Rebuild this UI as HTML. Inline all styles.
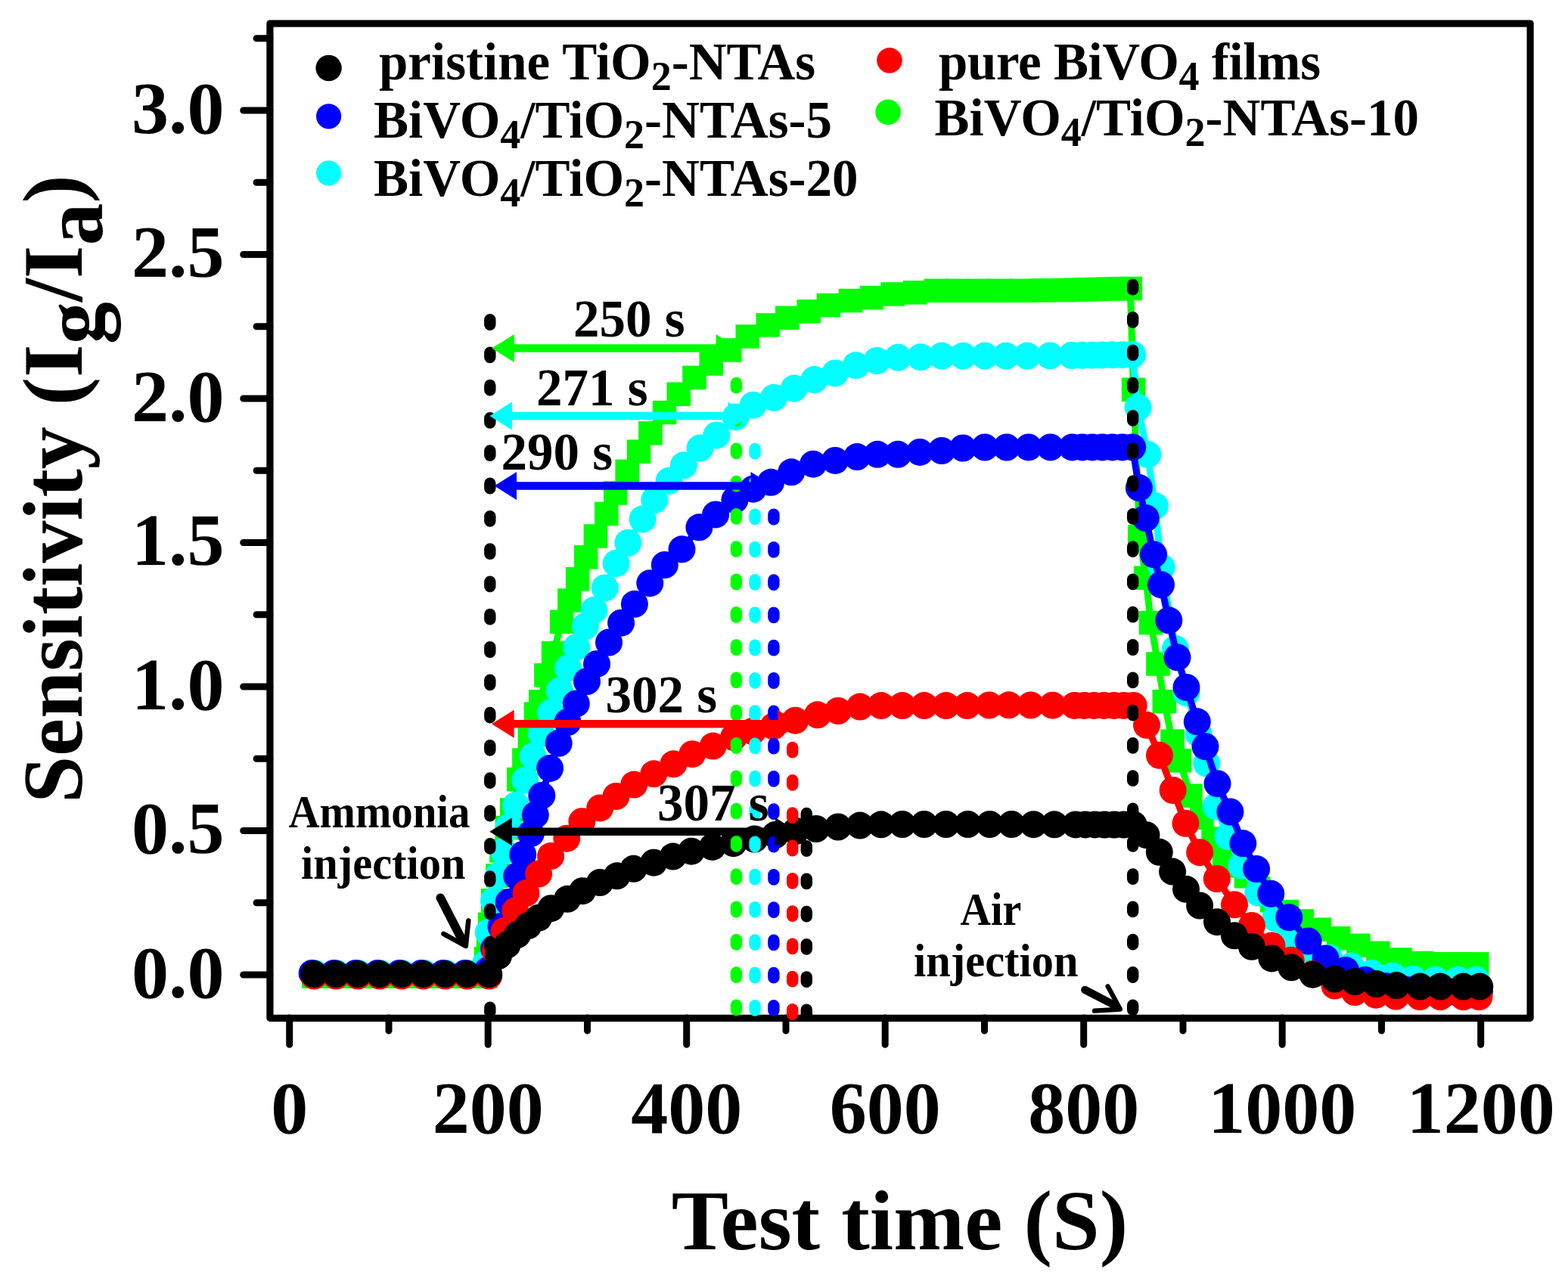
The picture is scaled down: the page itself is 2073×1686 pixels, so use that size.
<!DOCTYPE html>
<html><head><meta charset="utf-8"><title>Sensitivity vs Test time</title><style>html,body{margin:0;padding:0;background:#fff;overflow:hidden}svg{display:block}</style></head><body>
<svg width="2073" height="1686" viewBox="0 0 2073 1686" font-family="'Liberation Serif', 'Times New Roman', serif" font-weight="bold">
<rect width="2073" height="1686" fill="#fff"/>
<rect x="356.9" y="31.1" width="1666.2" height="1315.2" fill="none" stroke="#000" stroke-width="9.2" stroke-linejoin="round"/>
<path d="M356.9,1289.0H321.7M356.9,1193.8H339.1M356.9,1098.5H321.7M356.9,1003.2H339.1M356.9,908.0H321.7M356.9,812.8H339.1M356.9,717.5H321.7M356.9,622.2H339.1M356.9,527.0H321.7M356.9,431.8H339.1M356.9,336.5H321.7M356.9,241.2H339.1M356.9,146.0H321.7M356.9,50.8H339.1M382.7,1346V1381.2M514.0,1346V1363.0M645.2,1346V1381.2M776.5,1346V1363.0M907.7,1346V1381.2M1039.0,1346V1363.0M1170.2,1346V1381.2M1301.5,1346V1363.0M1432.7,1346V1381.2M1564.0,1346V1363.0M1695.2,1346V1381.2M1826.5,1346V1363.0M1957.7,1346V1381.2" stroke="#000" stroke-width="9" stroke-linecap="round" fill="none"/>
<g font-size="98" text-anchor="end">
<text x="296.6" y="1318.5">0.0</text>
<text x="296.6" y="1128.0">0.5</text>
<text x="296.6" y="937.5">1.0</text>
<text x="296.6" y="747.0">1.5</text>
<text x="296.6" y="556.5">2.0</text>
<text x="296.6" y="366.0">2.5</text>
<text x="296.6" y="175.5">3.0</text>
</g><g font-size="98" text-anchor="middle">
<text x="382.7" y="1498">0</text>
<text x="645.2" y="1498">200</text>
<text x="907.7" y="1498">400</text>
<text x="1170.2" y="1498">600</text>
<text x="1432.7" y="1498">800</text>
<text x="1695.2" y="1498">1000</text>
<text x="1957.7" y="1498">1200</text>
</g>
<text x="1189.5" y="1651.6" font-size="112.8" text-anchor="middle">Test time (S)</text>
<text transform="translate(107.7,1062) rotate(-90)" font-size="112">Sensitivity (I<tspan dy="27">g</tspan><tspan dy="-27">/I</tspan><tspan dy="27">a</tspan><tspan dy="-27">)</tspan></text>
<path d="M414.7,1291.2 L443.1,1291.2 L471.4,1291.2 L499.8,1291.2 L528.1,1291.2 L556.5,1291.2 L584.8,1291.2 L613.1,1291.2 L641.7,1291.2 L642.5,1268.0 L645.5,1245.0 L647.5,1222.3 L651.7,1190.7 L658.0,1158.0 L662.9,1125.0 L670.4,1094.5 L676.8,1071.0 L685.9,1030.6 L692.9,1005.0 L700.4,978.0 L708.4,944.1 L714.8,927.9 L721.9,892.9 L731.5,863.5 L742.6,822.2 L752.9,794.0 L763.6,765.6 L774.6,736.8 L787.4,709.0 L801.7,679.4 L813.8,652.0 L829.1,623.4 L844.5,597.1 L859.9,572.9 L878.5,545.5 L897.2,521.3 L918.0,499.4 L940.2,481.0 L964.9,463.0 L988.3,445.0 L1015.2,429.8 L1040.8,420.3 L1069.3,411.8 L1095.4,403.6 L1124.6,397.5 L1152.4,393.6 L1180.3,389.0 L1209.5,386.9 L1237.3,384.3 L1265.6,384.3 L1294.0,384.3 L1322.3,384.3 L1350.7,384.3 L1379.0,384.0 L1407.4,383.6 L1421.9,383.2 L1436.4,382.9 L1450.8,382.6 L1465.3,382.2 L1479.8,381.9 L1494.3,381.5 L1498.5,515.3 L1506.8,709.8 L1514.8,764.2 L1521.6,823.5 L1530.9,878.0 L1539.2,927.6 L1549.9,980.1 L1559.6,1005.9 L1573.9,1052.2 L1589.0,1081.5 L1604.1,1109.1 L1618.5,1129.0 L1630.9,1145.0 L1647.5,1158.8 L1664.0,1174.9 L1681.7,1191.0 L1701.5,1205.5 L1721.3,1217.9 L1744.5,1229.2 L1769.8,1240.8 L1795.9,1250.2 L1821.9,1260.3 L1850.9,1269.0 L1880.0,1273.5 L1906.0,1274.8 L1930.0,1274.8 L1952.8,1274.8" fill="none" stroke="#00ff00" stroke-width="9" stroke-linejoin="round" stroke-linecap="round"/>
<g fill="#00ff00"><rect x="398.9" y="1275.5" width="31.5" height="31.5"/><rect x="427.3" y="1275.5" width="31.5" height="31.5"/><rect x="455.6" y="1275.5" width="31.5" height="31.5"/><rect x="484.0" y="1275.5" width="31.5" height="31.5"/><rect x="512.4" y="1275.5" width="31.5" height="31.5"/><rect x="540.7" y="1275.5" width="31.5" height="31.5"/><rect x="569.0" y="1275.5" width="31.5" height="31.5"/><rect x="597.4" y="1275.5" width="31.5" height="31.5"/><rect x="626.0" y="1275.5" width="31.5" height="31.5"/><rect x="626.8" y="1252.2" width="31.5" height="31.5"/><rect x="629.8" y="1229.2" width="31.5" height="31.5"/><rect x="631.8" y="1206.5" width="31.5" height="31.5"/><rect x="636.0" y="1175.0" width="31.5" height="31.5"/><rect x="642.2" y="1142.2" width="31.5" height="31.5"/><rect x="647.1" y="1109.2" width="31.5" height="31.5"/><rect x="654.6" y="1078.8" width="31.5" height="31.5"/><rect x="661.0" y="1055.2" width="31.5" height="31.5"/><rect x="670.1" y="1014.8" width="31.5" height="31.5"/><rect x="677.1" y="989.2" width="31.5" height="31.5"/><rect x="684.6" y="962.2" width="31.5" height="31.5"/><rect x="692.6" y="928.4" width="31.5" height="31.5"/><rect x="699.0" y="912.1" width="31.5" height="31.5"/><rect x="706.1" y="877.1" width="31.5" height="31.5"/><rect x="715.8" y="847.8" width="31.5" height="31.5"/><rect x="726.9" y="806.5" width="31.5" height="31.5"/><rect x="737.1" y="778.2" width="31.5" height="31.5"/><rect x="747.9" y="749.9" width="31.5" height="31.5"/><rect x="758.9" y="721.0" width="31.5" height="31.5"/><rect x="771.6" y="693.2" width="31.5" height="31.5"/><rect x="786.0" y="663.6" width="31.5" height="31.5"/><rect x="798.0" y="636.2" width="31.5" height="31.5"/><rect x="813.4" y="607.6" width="31.5" height="31.5"/><rect x="828.8" y="581.4" width="31.5" height="31.5"/><rect x="844.1" y="557.1" width="31.5" height="31.5"/><rect x="862.8" y="529.8" width="31.5" height="31.5"/><rect x="881.5" y="505.5" width="31.5" height="31.5"/><rect x="902.2" y="483.6" width="31.5" height="31.5"/><rect x="924.5" y="465.2" width="31.5" height="31.5"/><rect x="949.1" y="447.2" width="31.5" height="31.5"/><rect x="972.5" y="429.2" width="31.5" height="31.5"/><rect x="999.5" y="414.1" width="31.5" height="31.5"/><rect x="1025.0" y="404.6" width="31.5" height="31.5"/><rect x="1053.5" y="396.1" width="31.5" height="31.5"/><rect x="1079.7" y="387.9" width="31.5" height="31.5"/><rect x="1108.8" y="381.8" width="31.5" height="31.5"/><rect x="1136.7" y="377.9" width="31.5" height="31.5"/><rect x="1164.5" y="373.2" width="31.5" height="31.5"/><rect x="1193.8" y="371.1" width="31.5" height="31.5"/><rect x="1221.5" y="368.6" width="31.5" height="31.5"/><rect x="1249.8" y="368.6" width="31.5" height="31.5"/><rect x="1278.2" y="368.6" width="31.5" height="31.5"/><rect x="1306.5" y="368.6" width="31.5" height="31.5"/><rect x="1335.0" y="368.6" width="31.5" height="31.5"/><rect x="1363.2" y="368.2" width="31.5" height="31.5"/><rect x="1391.7" y="367.9" width="31.5" height="31.5"/><rect x="1406.1" y="367.5" width="31.5" height="31.5"/><rect x="1420.6" y="367.2" width="31.5" height="31.5"/><rect x="1435.1" y="366.8" width="31.5" height="31.5"/><rect x="1449.6" y="366.4" width="31.5" height="31.5"/><rect x="1464.1" y="366.1" width="31.5" height="31.5"/><rect x="1478.5" y="365.8" width="31.5" height="31.5"/><rect x="1482.8" y="499.5" width="31.5" height="31.5"/><rect x="1491.0" y="694.0" width="31.5" height="31.5"/><rect x="1499.0" y="748.5" width="31.5" height="31.5"/><rect x="1505.8" y="807.8" width="31.5" height="31.5"/><rect x="1515.2" y="862.2" width="31.5" height="31.5"/><rect x="1523.5" y="911.9" width="31.5" height="31.5"/><rect x="1534.2" y="964.4" width="31.5" height="31.5"/><rect x="1543.8" y="990.1" width="31.5" height="31.5"/><rect x="1558.2" y="1036.5" width="31.5" height="31.5"/><rect x="1573.2" y="1065.8" width="31.5" height="31.5"/><rect x="1588.3" y="1093.3" width="31.5" height="31.5"/><rect x="1602.8" y="1113.2" width="31.5" height="31.5"/><rect x="1615.2" y="1129.2" width="31.5" height="31.5"/><rect x="1631.8" y="1143.0" width="31.5" height="31.5"/><rect x="1648.2" y="1159.2" width="31.5" height="31.5"/><rect x="1666.0" y="1175.2" width="31.5" height="31.5"/><rect x="1685.8" y="1189.8" width="31.5" height="31.5"/><rect x="1705.5" y="1202.2" width="31.5" height="31.5"/><rect x="1728.8" y="1213.5" width="31.5" height="31.5"/><rect x="1754.0" y="1225.0" width="31.5" height="31.5"/><rect x="1780.2" y="1234.5" width="31.5" height="31.5"/><rect x="1806.2" y="1244.5" width="31.5" height="31.5"/><rect x="1835.2" y="1253.2" width="31.5" height="31.5"/><rect x="1864.2" y="1257.8" width="31.5" height="31.5"/><rect x="1890.2" y="1259.0" width="31.5" height="31.5"/><rect x="1914.2" y="1259.0" width="31.5" height="31.5"/><rect x="1937.0" y="1259.0" width="31.5" height="31.5"/></g>
<path d="M417.0,1287.3 L445.9,1287.3 L474.8,1287.3 L503.7,1287.3 L532.6,1287.3 L561.5,1287.3 L590.4,1287.3 L619.3,1287.3 L646.0,1287.3 L641.6,1275.0 L645.8,1233.0 L652.9,1191.0 L658.7,1157.7 L665.6,1125.7 L672.6,1093.7 L682.2,1064.8 L694.4,1031.7 L704.7,999.9 L715.9,970.0 L728.2,942.2 L739.9,913.4 L751.2,883.5 L762.3,855.7 L773.9,828.1 L785.5,806.8 L799.7,777.4 L814.7,745.0 L830.3,717.8 L849.6,686.5 L865.3,661.1 L884.6,635.8 L903.9,615.3 L925.6,592.4 L947.3,575.5 L972.6,551.4 L995.6,535.7 L1023.2,525.8 L1049.8,513.6 L1076.6,502.1 L1104.2,493.4 L1131.7,483.1 L1159.3,477.0 L1187.3,472.7 L1217.2,472.2 L1245.2,470.6 L1273.2,470.6 L1302.1,470.6 L1330.1,470.6 L1358.1,470.6 L1388.0,470.4 L1416.9,470.0 L1430.3,469.8 L1443.7,469.7 L1457.1,469.5 L1470.4,469.3 L1483.8,469.2 L1497.2,469.0 L1504.6,538.7 L1517.4,600.9 L1527.0,669.1 L1535.7,750.1 L1554.0,858.0 L1568.5,916.0 L1584.6,970.3 L1595.2,1009.5 L1607.7,1066.4 L1623.5,1106.0 L1641.5,1144.5 L1663.3,1180.6 L1686.2,1214.4 L1704.3,1239.7 L1730.0,1255.0 L1757.3,1266.7 L1786.2,1277.5 L1813.0,1286.9 L1841.2,1290.5 L1868.0,1294.5 L1897.7,1295.6 L1927.3,1295.6 L1951.2,1295.6" fill="none" stroke="#00ffff" stroke-width="9" stroke-linejoin="round" stroke-linecap="round"/>
<g fill="#00ffff"><circle cx="417.0" cy="1287.3" r="18.00"/><circle cx="445.9" cy="1287.3" r="18.00"/><circle cx="474.8" cy="1287.3" r="18.00"/><circle cx="503.7" cy="1287.3" r="18.00"/><circle cx="532.6" cy="1287.3" r="18.00"/><circle cx="561.5" cy="1287.3" r="18.00"/><circle cx="590.4" cy="1287.3" r="18.00"/><circle cx="619.3" cy="1287.3" r="18.00"/><circle cx="646.0" cy="1287.3" r="18.00"/><circle cx="641.6" cy="1275.0" r="18.00"/><circle cx="645.8" cy="1233.0" r="18.00"/><circle cx="652.9" cy="1191.0" r="18.00"/><circle cx="658.7" cy="1157.7" r="18.00"/><circle cx="665.6" cy="1125.7" r="18.00"/><circle cx="672.6" cy="1093.7" r="18.00"/><circle cx="682.2" cy="1064.8" r="18.00"/><circle cx="694.4" cy="1031.7" r="18.00"/><circle cx="704.7" cy="999.9" r="18.00"/><circle cx="715.9" cy="970.0" r="18.00"/><circle cx="728.2" cy="942.2" r="18.00"/><circle cx="739.9" cy="913.4" r="18.00"/><circle cx="751.2" cy="883.5" r="18.00"/><circle cx="762.3" cy="855.7" r="18.00"/><circle cx="773.9" cy="828.1" r="18.00"/><circle cx="785.5" cy="806.8" r="18.00"/><circle cx="799.7" cy="777.4" r="18.00"/><circle cx="814.7" cy="745.0" r="18.00"/><circle cx="830.3" cy="717.8" r="18.00"/><circle cx="849.6" cy="686.5" r="18.00"/><circle cx="865.3" cy="661.1" r="18.00"/><circle cx="884.6" cy="635.8" r="18.00"/><circle cx="903.9" cy="615.3" r="18.00"/><circle cx="925.6" cy="592.4" r="18.00"/><circle cx="947.3" cy="575.5" r="18.00"/><circle cx="972.6" cy="551.4" r="18.00"/><circle cx="995.6" cy="535.7" r="18.00"/><circle cx="1023.2" cy="525.8" r="18.00"/><circle cx="1049.8" cy="513.6" r="18.00"/><circle cx="1076.6" cy="502.1" r="18.00"/><circle cx="1104.2" cy="493.4" r="18.00"/><circle cx="1131.7" cy="483.1" r="18.00"/><circle cx="1159.3" cy="477.0" r="18.00"/><circle cx="1187.3" cy="472.7" r="18.00"/><circle cx="1217.2" cy="472.2" r="18.00"/><circle cx="1245.2" cy="470.6" r="18.00"/><circle cx="1273.2" cy="470.6" r="18.00"/><circle cx="1302.1" cy="470.6" r="18.00"/><circle cx="1330.1" cy="470.6" r="18.00"/><circle cx="1358.1" cy="470.6" r="18.00"/><circle cx="1388.0" cy="470.4" r="18.00"/><circle cx="1416.9" cy="470.0" r="18.00"/><circle cx="1430.3" cy="469.8" r="18.00"/><circle cx="1443.7" cy="469.7" r="18.00"/><circle cx="1457.1" cy="469.5" r="18.00"/><circle cx="1470.4" cy="469.3" r="18.00"/><circle cx="1483.8" cy="469.2" r="18.00"/><circle cx="1497.2" cy="469.0" r="18.00"/><circle cx="1504.6" cy="538.7" r="18.00"/><circle cx="1517.4" cy="600.9" r="18.00"/><circle cx="1527.0" cy="669.1" r="18.00"/><circle cx="1535.7" cy="750.1" r="18.00"/><circle cx="1554.0" cy="858.0" r="18.00"/><circle cx="1568.5" cy="916.0" r="18.00"/><circle cx="1584.6" cy="970.3" r="18.00"/><circle cx="1595.2" cy="1009.5" r="18.00"/><circle cx="1607.7" cy="1066.4" r="18.00"/><circle cx="1623.5" cy="1106.0" r="18.00"/><circle cx="1641.5" cy="1144.5" r="18.00"/><circle cx="1663.3" cy="1180.6" r="18.00"/><circle cx="1686.2" cy="1214.4" r="18.00"/><circle cx="1704.3" cy="1239.7" r="18.00"/><circle cx="1730.0" cy="1255.0" r="18.00"/><circle cx="1757.3" cy="1266.7" r="18.00"/><circle cx="1786.2" cy="1277.5" r="18.00"/><circle cx="1813.0" cy="1286.9" r="18.00"/><circle cx="1841.2" cy="1290.5" r="18.00"/><circle cx="1868.0" cy="1294.5" r="18.00"/><circle cx="1897.7" cy="1295.6" r="18.00"/><circle cx="1927.3" cy="1295.6" r="18.00"/><circle cx="1951.2" cy="1295.6" r="18.00"/></g>
<path d="M412.6,1286.9 L441.5,1286.9 L470.4,1286.9 L499.3,1286.9 L528.2,1286.9 L557.1,1286.9 L586.0,1286.9 L614.9,1286.9 L643.7,1286.9 L645.0,1283.0 L653.1,1254.4 L662.5,1225.0 L672.6,1193.0 L683.2,1158.5 L691.2,1130.0 L701.9,1102.2 L707.8,1077.6 L716.3,1052.0 L727.1,1015.9 L738.7,982.8 L750.5,955.0 L761.8,930.5 L776.0,901.0 L789.0,877.9 L805.0,849.5 L821.1,823.7 L838.9,798.8 L859.3,771.2 L878.8,747.0 L901.5,726.3 L924.4,697.3 L946.1,680.4 L971.4,661.1 L995.6,646.7 L1019.2,637.8 L1046.2,624.3 L1075.1,613.7 L1104.1,608.9 L1133.1,604.1 L1160.1,600.8 L1187.1,600.8 L1216.1,597.9 L1245.0,596.0 L1273.0,592.5 L1302.0,591.5 L1330.9,591.5 L1359.8,591.4 L1388.7,591.4 L1417.6,591.4 L1430.9,591.4 L1444.1,591.4 L1457.4,591.4 L1470.7,591.4 L1483.9,591.4 L1497.2,591.4 L1505.9,645.1 L1514.8,685.1 L1525.1,733.2 L1535.0,773.2 L1545.3,820.3 L1556.5,869.3 L1568.5,908.9 L1582.8,954.3 L1593.5,987.2 L1609.5,1036.2 L1626.4,1073.5 L1643.3,1115.3 L1661.1,1149.1 L1680.2,1181.8 L1704.3,1213.2 L1729.6,1244.5 L1752.6,1267.4 L1779.1,1283.1 L1805.0,1296.0 L1832.0,1304.0 L1860.0,1309.0 L1888.0,1311.0 L1916.0,1311.5 L1940.0,1311.5 L1956.0,1311.5" fill="none" stroke="#0000ff" stroke-width="9" stroke-linejoin="round" stroke-linecap="round"/>
<g fill="#0000ff"><circle cx="412.6" cy="1286.9" r="18.00"/><circle cx="441.5" cy="1286.9" r="18.00"/><circle cx="470.4" cy="1286.9" r="18.00"/><circle cx="499.3" cy="1286.9" r="18.00"/><circle cx="528.2" cy="1286.9" r="18.00"/><circle cx="557.1" cy="1286.9" r="18.00"/><circle cx="586.0" cy="1286.9" r="18.00"/><circle cx="614.9" cy="1286.9" r="18.00"/><circle cx="643.7" cy="1286.9" r="18.00"/><circle cx="645.0" cy="1283.0" r="18.00"/><circle cx="653.1" cy="1254.4" r="18.00"/><circle cx="662.5" cy="1225.0" r="18.00"/><circle cx="672.6" cy="1193.0" r="18.00"/><circle cx="683.2" cy="1158.5" r="18.00"/><circle cx="691.2" cy="1130.0" r="18.00"/><circle cx="701.9" cy="1102.2" r="18.00"/><circle cx="707.8" cy="1077.6" r="18.00"/><circle cx="716.3" cy="1052.0" r="18.00"/><circle cx="727.1" cy="1015.9" r="18.00"/><circle cx="738.7" cy="982.8" r="18.00"/><circle cx="750.5" cy="955.0" r="18.00"/><circle cx="761.8" cy="930.5" r="18.00"/><circle cx="776.0" cy="901.0" r="18.00"/><circle cx="789.0" cy="877.9" r="18.00"/><circle cx="805.0" cy="849.5" r="18.00"/><circle cx="821.1" cy="823.7" r="18.00"/><circle cx="838.9" cy="798.8" r="18.00"/><circle cx="859.3" cy="771.2" r="18.00"/><circle cx="878.8" cy="747.0" r="18.00"/><circle cx="901.5" cy="726.3" r="18.00"/><circle cx="924.4" cy="697.3" r="18.00"/><circle cx="946.1" cy="680.4" r="18.00"/><circle cx="971.4" cy="661.1" r="18.00"/><circle cx="995.6" cy="646.7" r="18.00"/><circle cx="1019.2" cy="637.8" r="18.00"/><circle cx="1046.2" cy="624.3" r="18.00"/><circle cx="1075.1" cy="613.7" r="18.00"/><circle cx="1104.1" cy="608.9" r="18.00"/><circle cx="1133.1" cy="604.1" r="18.00"/><circle cx="1160.1" cy="600.8" r="18.00"/><circle cx="1187.1" cy="600.8" r="18.00"/><circle cx="1216.1" cy="597.9" r="18.00"/><circle cx="1245.0" cy="596.0" r="18.00"/><circle cx="1273.0" cy="592.5" r="18.00"/><circle cx="1302.0" cy="591.5" r="18.00"/><circle cx="1330.9" cy="591.5" r="18.00"/><circle cx="1359.8" cy="591.4" r="18.00"/><circle cx="1388.7" cy="591.4" r="18.00"/><circle cx="1417.6" cy="591.4" r="18.00"/><circle cx="1430.9" cy="591.4" r="18.00"/><circle cx="1444.1" cy="591.4" r="18.00"/><circle cx="1457.4" cy="591.4" r="18.00"/><circle cx="1470.7" cy="591.4" r="18.00"/><circle cx="1483.9" cy="591.4" r="18.00"/><circle cx="1497.2" cy="591.4" r="18.00"/><circle cx="1505.9" cy="645.1" r="18.00"/><circle cx="1514.8" cy="685.1" r="18.00"/><circle cx="1525.1" cy="733.2" r="18.00"/><circle cx="1535.0" cy="773.2" r="18.00"/><circle cx="1545.3" cy="820.3" r="18.00"/><circle cx="1556.5" cy="869.3" r="18.00"/><circle cx="1568.5" cy="908.9" r="18.00"/><circle cx="1582.8" cy="954.3" r="18.00"/><circle cx="1593.5" cy="987.2" r="18.00"/><circle cx="1609.5" cy="1036.2" r="18.00"/><circle cx="1626.4" cy="1073.5" r="18.00"/><circle cx="1643.3" cy="1115.3" r="18.00"/><circle cx="1661.1" cy="1149.1" r="18.00"/><circle cx="1680.2" cy="1181.8" r="18.00"/><circle cx="1704.3" cy="1213.2" r="18.00"/><circle cx="1729.6" cy="1244.5" r="18.00"/><circle cx="1752.6" cy="1267.4" r="18.00"/><circle cx="1779.1" cy="1283.1" r="18.00"/><circle cx="1805.0" cy="1296.0" r="18.00"/><circle cx="1832.0" cy="1304.0" r="18.00"/><circle cx="1860.0" cy="1309.0" r="18.00"/><circle cx="1888.0" cy="1311.0" r="18.00"/><circle cx="1916.0" cy="1311.5" r="18.00"/><circle cx="1940.0" cy="1311.5" r="18.00"/><circle cx="1956.0" cy="1311.5" r="18.00"/></g>
<path d="M415.2,1290.6 L444.1,1290.6 L473.0,1290.6 L501.9,1290.6 L530.8,1290.6 L559.7,1290.6 L588.6,1290.6 L617.5,1290.6 L646.3,1290.6 L654.9,1258.0 L666.5,1231.2 L681.2,1204.5 L695.5,1181.0 L712.1,1155.6 L728.1,1132.1 L749.3,1108.7 L769.4,1086.2 L793.2,1068.4 L814.5,1053.0 L838.2,1037.6 L864.3,1023.3 L890.4,1010.3 L915.3,997.2 L942.6,986.6 L970.0,975.0 L995.0,967.0 L1022.6,960.3 L1051.4,952.7 L1080.9,945.3 L1108.0,940.0 L1136.9,934.6 L1164.9,933.1 L1192.9,933.1 L1221.9,933.1 L1250.8,933.1 L1278.8,933.1 L1307.8,932.5 L1333.8,932.3 L1362.7,932.5 L1391.6,932.7 L1420.5,932.9 L1433.5,932.9 L1446.6,932.9 L1459.6,932.9 L1472.6,932.9 L1485.7,932.9 L1498.7,932.9 L1516.0,958.8 L1533.0,998.8 L1550.7,1045.0 L1567.5,1088.8 L1586.2,1127.2 L1608.8,1162.0 L1632.0,1196.3 L1654.9,1224.0 L1681.4,1250.5 L1706.7,1269.8 L1735.0,1288.0 L1764.6,1303.6 L1791.1,1312.0 L1818.9,1315.7 L1845.4,1317.5 L1877.0,1318.0 L1904.2,1318.0 L1934.6,1318.0 L1955.5,1318.0" fill="none" stroke="#ff0000" stroke-width="9" stroke-linejoin="round" stroke-linecap="round"/>
<g fill="#ff0000"><circle cx="415.2" cy="1290.6" r="18.00"/><circle cx="444.1" cy="1290.6" r="18.00"/><circle cx="473.0" cy="1290.6" r="18.00"/><circle cx="501.9" cy="1290.6" r="18.00"/><circle cx="530.8" cy="1290.6" r="18.00"/><circle cx="559.7" cy="1290.6" r="18.00"/><circle cx="588.6" cy="1290.6" r="18.00"/><circle cx="617.5" cy="1290.6" r="18.00"/><circle cx="646.3" cy="1290.6" r="18.00"/><circle cx="654.9" cy="1258.0" r="18.00"/><circle cx="666.5" cy="1231.2" r="18.00"/><circle cx="681.2" cy="1204.5" r="18.00"/><circle cx="695.5" cy="1181.0" r="18.00"/><circle cx="712.1" cy="1155.6" r="18.00"/><circle cx="728.1" cy="1132.1" r="18.00"/><circle cx="749.3" cy="1108.7" r="18.00"/><circle cx="769.4" cy="1086.2" r="18.00"/><circle cx="793.2" cy="1068.4" r="18.00"/><circle cx="814.5" cy="1053.0" r="18.00"/><circle cx="838.2" cy="1037.6" r="18.00"/><circle cx="864.3" cy="1023.3" r="18.00"/><circle cx="890.4" cy="1010.3" r="18.00"/><circle cx="915.3" cy="997.2" r="18.00"/><circle cx="942.6" cy="986.6" r="18.00"/><circle cx="970.0" cy="975.0" r="18.00"/><circle cx="995.0" cy="967.0" r="18.00"/><circle cx="1022.6" cy="960.3" r="18.00"/><circle cx="1051.4" cy="952.7" r="18.00"/><circle cx="1080.9" cy="945.3" r="18.00"/><circle cx="1108.0" cy="940.0" r="18.00"/><circle cx="1136.9" cy="934.6" r="18.00"/><circle cx="1164.9" cy="933.1" r="18.00"/><circle cx="1192.9" cy="933.1" r="18.00"/><circle cx="1221.9" cy="933.1" r="18.00"/><circle cx="1250.8" cy="933.1" r="18.00"/><circle cx="1278.8" cy="933.1" r="18.00"/><circle cx="1307.8" cy="932.5" r="18.00"/><circle cx="1333.8" cy="932.3" r="18.00"/><circle cx="1362.7" cy="932.5" r="18.00"/><circle cx="1391.6" cy="932.7" r="18.00"/><circle cx="1420.5" cy="932.9" r="18.00"/><circle cx="1433.5" cy="932.9" r="18.00"/><circle cx="1446.6" cy="932.9" r="18.00"/><circle cx="1459.6" cy="932.9" r="18.00"/><circle cx="1472.6" cy="932.9" r="18.00"/><circle cx="1485.7" cy="932.9" r="18.00"/><circle cx="1498.7" cy="932.9" r="18.00"/><circle cx="1516.0" cy="958.8" r="18.00"/><circle cx="1533.0" cy="998.8" r="18.00"/><circle cx="1550.7" cy="1045.0" r="18.00"/><circle cx="1567.5" cy="1088.8" r="18.00"/><circle cx="1586.2" cy="1127.2" r="18.00"/><circle cx="1608.8" cy="1162.0" r="18.00"/><circle cx="1632.0" cy="1196.3" r="18.00"/><circle cx="1654.9" cy="1224.0" r="18.00"/><circle cx="1681.4" cy="1250.5" r="18.00"/><circle cx="1706.7" cy="1269.8" r="18.00"/><circle cx="1735.0" cy="1288.0" r="18.00"/><circle cx="1764.6" cy="1303.6" r="18.00"/><circle cx="1791.1" cy="1312.0" r="18.00"/><circle cx="1818.9" cy="1315.7" r="18.00"/><circle cx="1845.4" cy="1317.5" r="18.00"/><circle cx="1877.0" cy="1318.0" r="18.00"/><circle cx="1904.2" cy="1318.0" r="18.00"/><circle cx="1934.6" cy="1318.0" r="18.00"/><circle cx="1955.5" cy="1318.0" r="18.00"/></g>
<path d="M415.1,1288.0 L444.0,1288.0 L472.9,1288.0 L501.8,1288.0 L530.7,1288.0 L559.6,1288.0 L588.5,1288.0 L617.4,1288.0 L646.2,1288.0 L659.0,1264.0 L670.5,1249.5 L684.0,1236.0 L698.5,1224.0 L712.2,1213.7 L728.4,1201.2 L750.2,1188.8 L770.1,1178.2 L793.1,1167.0 L815.6,1158.3 L837.6,1148.8 L864.3,1140.7 L889.7,1132.6 L914.0,1125.7 L941.8,1119.9 L969.6,1115.2 L997.4,1109.5 L1025.0,1104.0 L1052.0,1099.0 L1079.0,1096.0 L1108.0,1093.5 L1136.9,1091.6 L1164.9,1090.3 L1192.9,1090.0 L1221.8,1090.0 L1250.7,1090.0 L1279.6,1090.0 L1308.5,1090.0 L1337.4,1090.0 L1366.3,1090.2 L1394.0,1090.3 L1422.0,1090.4 L1434.8,1090.4 L1447.6,1090.4 L1460.3,1090.5 L1473.1,1090.5 L1485.9,1090.5 L1498.7,1090.5 L1515.5,1104.2 L1532.8,1126.8 L1550.1,1152.6 L1568.0,1175.8 L1586.1,1197.5 L1609.0,1219.2 L1632.0,1237.3 L1654.9,1251.8 L1681.4,1267.4 L1707.4,1279.3 L1735.6,1288.7 L1764.5,1294.5 L1791.3,1298.1 L1819.5,1301.0 L1846.3,1303.1 L1877.4,1304.6 L1904.2,1304.6 L1934.6,1304.6 L1956.3,1304.6" fill="none" stroke="#000000" stroke-width="9" stroke-linejoin="round" stroke-linecap="round"/>
<g fill="#000000"><circle cx="415.1" cy="1288.0" r="18.00"/><circle cx="444.0" cy="1288.0" r="18.00"/><circle cx="472.9" cy="1288.0" r="18.00"/><circle cx="501.8" cy="1288.0" r="18.00"/><circle cx="530.7" cy="1288.0" r="18.00"/><circle cx="559.6" cy="1288.0" r="18.00"/><circle cx="588.5" cy="1288.0" r="18.00"/><circle cx="617.4" cy="1288.0" r="18.00"/><circle cx="646.2" cy="1288.0" r="18.00"/><circle cx="659.0" cy="1264.0" r="18.00"/><circle cx="670.5" cy="1249.5" r="18.00"/><circle cx="684.0" cy="1236.0" r="18.00"/><circle cx="698.5" cy="1224.0" r="18.00"/><circle cx="712.2" cy="1213.7" r="18.00"/><circle cx="728.4" cy="1201.2" r="18.00"/><circle cx="750.2" cy="1188.8" r="18.00"/><circle cx="770.1" cy="1178.2" r="18.00"/><circle cx="793.1" cy="1167.0" r="18.00"/><circle cx="815.6" cy="1158.3" r="18.00"/><circle cx="837.6" cy="1148.8" r="18.00"/><circle cx="864.3" cy="1140.7" r="18.00"/><circle cx="889.7" cy="1132.6" r="18.00"/><circle cx="914.0" cy="1125.7" r="18.00"/><circle cx="941.8" cy="1119.9" r="18.00"/><circle cx="969.6" cy="1115.2" r="18.00"/><circle cx="997.4" cy="1109.5" r="18.00"/><circle cx="1025.0" cy="1104.0" r="18.00"/><circle cx="1052.0" cy="1099.0" r="18.00"/><circle cx="1079.0" cy="1096.0" r="18.00"/><circle cx="1108.0" cy="1093.5" r="18.00"/><circle cx="1136.9" cy="1091.6" r="18.00"/><circle cx="1164.9" cy="1090.3" r="18.00"/><circle cx="1192.9" cy="1090.0" r="18.00"/><circle cx="1221.8" cy="1090.0" r="18.00"/><circle cx="1250.7" cy="1090.0" r="18.00"/><circle cx="1279.6" cy="1090.0" r="18.00"/><circle cx="1308.5" cy="1090.0" r="18.00"/><circle cx="1337.4" cy="1090.0" r="18.00"/><circle cx="1366.3" cy="1090.2" r="18.00"/><circle cx="1394.0" cy="1090.3" r="18.00"/><circle cx="1422.0" cy="1090.4" r="18.00"/><circle cx="1434.8" cy="1090.4" r="18.00"/><circle cx="1447.6" cy="1090.4" r="18.00"/><circle cx="1460.3" cy="1090.5" r="18.00"/><circle cx="1473.1" cy="1090.5" r="18.00"/><circle cx="1485.9" cy="1090.5" r="18.00"/><circle cx="1498.7" cy="1090.5" r="18.00"/><circle cx="1515.5" cy="1104.2" r="18.00"/><circle cx="1532.8" cy="1126.8" r="18.00"/><circle cx="1550.1" cy="1152.6" r="18.00"/><circle cx="1568.0" cy="1175.8" r="18.00"/><circle cx="1586.1" cy="1197.5" r="18.00"/><circle cx="1609.0" cy="1219.2" r="18.00"/><circle cx="1632.0" cy="1237.3" r="18.00"/><circle cx="1654.9" cy="1251.8" r="18.00"/><circle cx="1681.4" cy="1267.4" r="18.00"/><circle cx="1707.4" cy="1279.3" r="18.00"/><circle cx="1735.6" cy="1288.7" r="18.00"/><circle cx="1764.5" cy="1294.5" r="18.00"/><circle cx="1791.3" cy="1298.1" r="18.00"/><circle cx="1819.5" cy="1301.0" r="18.00"/><circle cx="1846.3" cy="1303.1" r="18.00"/><circle cx="1877.4" cy="1304.6" r="18.00"/><circle cx="1904.2" cy="1304.6" r="18.00"/><circle cx="1934.6" cy="1304.6" r="18.00"/><circle cx="1956.3" cy="1304.6" r="18.00"/></g>
<circle cx="434.6" cy="90" r="17.2" fill="#000"/>
<circle cx="434.6" cy="153.8" r="16.6" fill="#0000ff"/>
<circle cx="434.6" cy="228.9" r="16.6" fill="#00ffff"/>
<circle cx="1176" cy="79.9" r="16.8" fill="#ff0000"/>
<circle cx="1174.1" cy="148.3" r="16.8" fill="#00ff00"/>
<g font-size="69">
<text x="501" y="105">pristine TiO<tspan font-size="54" dy="14">2</tspan><tspan dy="-14">-NTAs</tspan></text>
<text x="494" y="181.5">BiVO<tspan font-size="54" dy="14">4</tspan><tspan dy="-14">/TiO</tspan><tspan font-size="54" dy="14">2</tspan><tspan dy="-14">-NTAs-5</tspan></text>
<text x="494" y="258.9">BiVO<tspan font-size="54" dy="14">4</tspan><tspan dy="-14">/TiO</tspan><tspan font-size="54" dy="14">2</tspan><tspan dy="-14">-NTAs-20</tspan></text>
<text x="1241" y="105" textLength="505" lengthAdjust="spacing">pure BiVO<tspan font-size="54" dy="14">4</tspan><tspan dy="-14"> films</tspan></text>
<text x="1235.5" y="178.8">BiVO<tspan font-size="54" dy="14">4</tspan><tspan dy="-14">/TiO</tspan><tspan font-size="54" dy="14">2</tspan><tspan dy="-14">-NTAs-10</tspan></text>
</g>
<path d="M647.8,422.8v6.4M647.8,466.1v6.4M647.8,509.4v6.4M647.8,552.7v6.4M647.8,596.0v6.4M647.8,639.3v6.4M647.8,682.6v6.4M647.8,725.9v6.4M647.8,769.2v6.4M647.8,812.5v6.4M647.8,855.8v6.4M647.8,899.1v6.4M647.8,942.4v6.4M647.8,985.7v6.4M647.8,1029.0v6.4M647.8,1072.3v6.4M647.8,1115.6v6.4M647.8,1158.9v6.4M647.8,1202.2v6.4M647.8,1245.5v6.4M647.8,1288.8v6.4M647.8,1332.1v6.4" stroke="#000000" stroke-width="15.4" stroke-linecap="round" fill="none"/>
<path d="M1497.7,376.5v6.4M1497.7,419.8v6.4M1497.7,463.1v6.4M1497.7,506.4v6.4M1497.7,549.7v6.4M1497.7,593.0v6.4M1497.7,636.3v6.4M1497.7,679.6v6.4M1497.7,722.9v6.4M1497.7,766.2v6.4M1497.7,809.5v6.4M1497.7,852.8v6.4M1497.7,896.1v6.4M1497.7,939.4v6.4M1497.7,982.7v6.4M1497.7,1026.0v6.4M1497.7,1069.3v6.4M1497.7,1112.6v6.4M1497.7,1155.9v6.4M1497.7,1199.2v6.4M1497.7,1242.5v6.4M1497.7,1285.8v6.4M1497.7,1329.1v6.4" stroke="#000000" stroke-width="15.4" stroke-linecap="round" fill="none"/>
<path d="M973.4,506.5v6.4M973.4,549.8v6.4M973.4,593.1v6.4M973.4,636.4v6.4M973.4,679.7v6.4M973.4,723.0v6.4M973.4,766.3v6.4M973.4,809.6v6.4M973.4,852.9v6.4M973.4,896.2v6.4M973.4,939.5v6.4M973.4,982.8v6.4M973.4,1026.1v6.4M973.4,1069.4v6.4M973.4,1112.7v6.4M973.4,1156.0v6.4M973.4,1199.3v6.4M973.4,1242.6v6.4M973.4,1285.9v6.4M973.4,1329.2v6.4" stroke="#00ff00" stroke-width="15.4" stroke-linecap="round" fill="none"/>
<path d="M998.1,593.5v6.4M998.1,636.8v6.4M998.1,680.1v6.4M998.1,723.4v6.4M998.1,766.7v6.4M998.1,810.0v6.4M998.1,853.3v6.4M998.1,896.6v6.4M998.1,939.9v6.4M998.1,983.2v6.4M998.1,1026.5v6.4M998.1,1069.8v6.4M998.1,1113.1v6.4M998.1,1156.4v6.4M998.1,1199.7v6.4M998.1,1243.0v6.4M998.1,1286.3v6.4M998.1,1329.6v6.4" stroke="#00ffff" stroke-width="15.4" stroke-linecap="round" fill="none"/>
<path d="M1022.9,680.3v6.4M1022.9,723.6v6.4M1022.9,766.9v6.4M1022.9,810.2v6.4M1022.9,853.5v6.4M1022.9,896.8v6.4M1022.9,940.1v6.4M1022.9,983.4v6.4M1022.9,1026.7v6.4M1022.9,1070.0v6.4M1022.9,1113.3v6.4M1022.9,1156.6v6.4M1022.9,1199.9v6.4M1022.9,1243.2v6.4M1022.9,1286.5v6.4M1022.9,1329.8v6.4" stroke="#0000ff" stroke-width="15.4" stroke-linecap="round" fill="none"/>
<path d="M1047.7,988.4v6.4M1047.7,1031.7v6.4M1047.7,1075.0v6.4M1047.7,1118.3v6.4M1047.7,1161.6v6.4M1047.7,1204.9v6.4M1047.7,1248.2v6.4M1047.7,1291.5v6.4M1047.7,1334.8v6.4" stroke="#ff0000" stroke-width="15.4" stroke-linecap="round" fill="none"/>
<path d="M1066.3,1075.5v6.4M1066.3,1118.8v6.4M1066.3,1162.1v6.4M1066.3,1205.4v6.4M1066.3,1248.7v6.4M1066.3,1292.0v6.4M1066.3,1335.3v6.4" stroke="#000000" stroke-width="15.4" stroke-linecap="round" fill="none"/>
<path d="M660.3,460.6H966.0" stroke="#00ff00" stroke-width="10.5" fill="none"/>
<path d="M650.3,460.6L679.8,442.1L679.8,479.1ZM976.0,460.6L946.5,442.1L946.5,479.1Z" fill="#00ff00"/>
<path d="M657.4,550.0H982.0" stroke="#00ffff" stroke-width="10.5" fill="none"/>
<path d="M647.4,550.0L676.9,531.5L676.9,568.5ZM992.0,550.0L962.5,531.5L962.5,568.5Z" fill="#00ffff"/>
<path d="M663.5,642.5H1012.0" stroke="#0000ff" stroke-width="10.5" fill="none"/>
<path d="M653.5,642.5L683.0,624.0L683.0,661.0ZM1022.0,642.5L992.5,624.0L992.5,661.0Z" fill="#0000ff"/>
<path d="M660.1,957.2H1047.6" stroke="#ff0000" stroke-width="10.5" fill="none"/>
<path d="M650.1,957.2L679.6,938.7L679.6,975.7ZM1057.6,957.2L1028.1,938.7L1028.1,975.7Z" fill="#ff0000"/>
<path d="M657.3,1099.8H1044.6" stroke="#000000" stroke-width="10.5" fill="none"/>
<path d="M647.3,1099.8L676.8,1081.3L676.8,1118.3ZM1054.6,1099.8L1025.1,1081.3L1025.1,1118.3Z" fill="#000000"/>
<g font-size="69">
<text x="758" y="445.3">250 s</text>
<text x="709" y="535.7">271 s</text>
<text x="662.5" y="621.3">290 s</text>
<text x="800.5" y="942.2">302 s</text>
<text x="869" y="1084.6">307 s</text>
</g>
<g font-size="62">
<text x="381.5" y="1094" textLength="240" lengthAdjust="spacingAndGlyphs">Ammonia</text>
<text x="398" y="1161.8" textLength="217.5" lengthAdjust="spacingAndGlyphs">injection</text>
<text x="1269.5" y="1222.5" textLength="81" lengthAdjust="spacingAndGlyphs">Air</text>
<text x="1208" y="1291" textLength="217.5" lengthAdjust="spacingAndGlyphs">injection</text>
</g>
<path d="M582.2,1187.2L612.0,1245.0" stroke="#000" stroke-width="11.5" stroke-linecap="round" fill="none"/>
<path d="M619.3,1217.4L615.8,1251.0L586.4,1234.9" stroke="#000" stroke-width="6.5" stroke-linecap="round" stroke-linejoin="round" fill="none"/>
<path d="M1434.3,1308.9L1475.5,1330.3" stroke="#000" stroke-width="10.2" stroke-linecap="round" fill="none"/>
<path d="M1464.6,1304.3L1481.0,1334.6L1447.0,1336.7" stroke="#000" stroke-width="6.2" stroke-linecap="round" stroke-linejoin="round" fill="none"/>
</svg>
</body></html>
